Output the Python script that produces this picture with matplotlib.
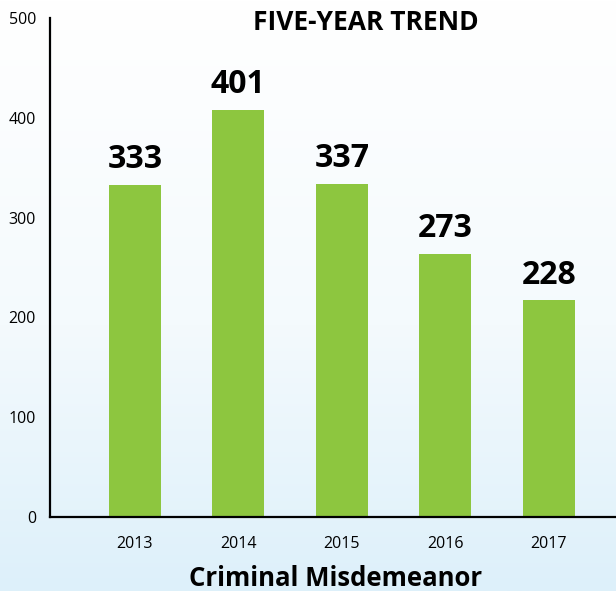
import numpy as np
import matplotlib
matplotlib.use("Agg")
import matplotlib.pyplot as plt
from matplotlib.colors import LinearSegmentedColormap

years = ["2013", "2014", "2015", "2016", "2017"]
bar_values = [333, 408, 334, 264, 217]
value_labels = ["333", "401", "337", "273", "228"]
yticks = [0, 100, 200, 300, 400, 500]

title = "FIVE-YEAR TREND"
xlabel = "Criminal Misdemeanor"

W, H = 616, 591
fig = plt.figure(figsize=(W / 100, H / 100), dpi=100)

# background gradient
bg = fig.add_axes([0, 0, 1, 1], zorder=-10)
grad = np.linspace(0, 1, 256).reshape(-1, 1)
cmap = LinearSegmentedColormap.from_list("bg", [(0, "#ddf0fa"), (0.45, "#f4fafd"), (1, "#ffffff")])
bg.imshow(grad, aspect="auto", cmap=cmap, origin="lower", extent=[0, 1, 0, 1])
bg.axis("off")

left = 50 / W
bottom = (H - 517) / H
top = (H - 18) / H
ax = fig.add_axes([left, bottom, 1 - left, top - bottom])
ax.patch.set_alpha(0)

x = np.arange(len(years))
ax.bar(x, bar_values, width=0.5, color="#8dc63f", zorder=2)
for xi, v, lab in zip(x, bar_values, value_labels):
    ax.annotate(lab, (xi, v), xytext=(0, 6), textcoords="offset points",
                ha="center", va="bottom", fontsize=23, fontweight="bold",
                family="Open Sans", color="black")

tick_font = "Open Sans"
ax.set_xlim(-0.82, 4.65)
ax.set_ylim(0, 500)
ax.set_yticks(yticks)
ax.set_yticklabels([str(t) for t in yticks], family=tick_font, fontsize=11.5)
ax.set_xticks(x)
ax.set_xticklabels(years, family=tick_font, fontsize=11.5)
ax.tick_params(axis="both", length=0)
ax.tick_params(axis="y", pad=10)
ax.tick_params(axis="x", pad=14)

for s in ["top", "right"]:
    ax.spines[s].set_visible(False)
ax.spines["left"].set_linewidth(1.6)
ax.spines["bottom"].set_linewidth(1.6)

fig.text(366 / W, 1 - 22 / H, title, ha="center", va="center",
         fontsize=19, fontweight="bold", family="Open Sans")
fig.text(336 / W, 1 - 578 / H, xlabel, ha="center", va="center",
         fontsize=18.5, fontweight="bold", family="Open Sans")

fig.savefig("out.png", dpi=100)
